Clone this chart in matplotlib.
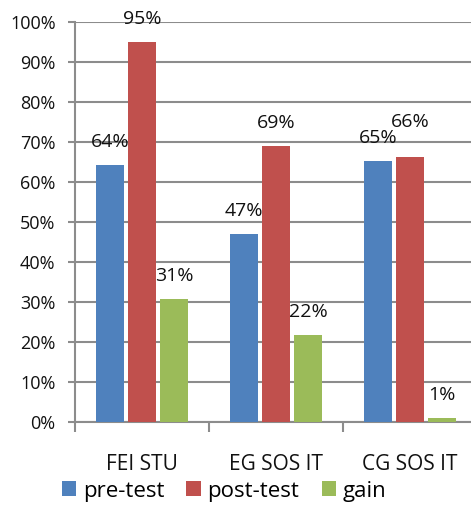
import matplotlib
matplotlib.use("Agg")
import matplotlib.pyplot as plt
import numpy as np

# data
categories = ["FEI STU", "EG SOS IT", "CG SOS IT"]
series_names = ["pre-test", "post-test", "gain"]
pre_test = [64.2, 47.0, 65.2]
post_test = [95.0, 69.0, 66.2]
gain = [30.6, 21.8, 1.0]
label_text = [["64%", "47%", "65%"], ["95%", "69%", "66%"], ["31%", "22%", "1%"]]

colors = ["#4F81BD", "#C0504D", "#9BBB59"]
grid_col = "#8C8C8C"

plt.rcParams['font.family'] = ['Open Sans', 'DejaVu Sans']

fig = plt.figure(figsize=(4.71, 5.21), dpi=100)
ax = fig.add_axes([75 / 471, 99.3 / 521, 402 / 471, 399.7 / 521])

x = np.arange(len(categories))
width = 0.216
step = 0.239
all_series = [pre_test, post_test, gain]

for i, vals in enumerate(all_series):
    pos = x + (i - 1) * step
    ax.bar(pos, vals, width, color=colors[i], label=series_names[i], zorder=3)
    for j, v in enumerate(vals):
        off = 16.5
        if i == 1 and j == 2:
            off = 25  # nudged up so it does not overlap 65%
        ax.annotate(label_text[i][j], (pos[j], v), xytext=(0, off),
                    textcoords="offset points", ha="center", va="center",
                    fontsize=14, color="#111111", zorder=4)

ax.set_xlim(-0.5, 2.5)
ax.set_ylim(0, 100)
ax.set_yticks(np.arange(0, 101, 10))
ax.set_yticklabels([f"{t}%" for t in range(0, 101, 10)])
ax.yaxis.grid(True, color=grid_col, linewidth=1.5, zorder=0)

ax.set_xticks(x)
ax.set_xticklabels(categories)
ax.set_xticks([-0.5, 0.5, 1.5, 2.5], minor=True)
ax.tick_params(axis="x", which="major", length=0, pad=23, labelsize=15, colors="#111111")
ax.tick_params(axis="x", which="minor", length=7, width=1.5, color=grid_col)
ax.tick_params(axis="y", length=5, width=1.5, color=grid_col, pad=9, labelsize=13, labelcolor="#111111")

for s in ["top", "right"]:
    ax.spines[s].set_visible(False)
for s in ["left", "bottom"]:
    ax.spines[s].set_color(grid_col)
    ax.spines[s].set_linewidth(1.5)

fig.legend(loc="center", bbox_to_anchor=(224 / 471, 1 - 491 / 521), ncol=3,
           frameon=False, fontsize=16, handlelength=0.65, handleheight=0.65,
           handletextpad=0.3, columnspacing=1.0)

fig.savefig("out.png", dpi=100)
